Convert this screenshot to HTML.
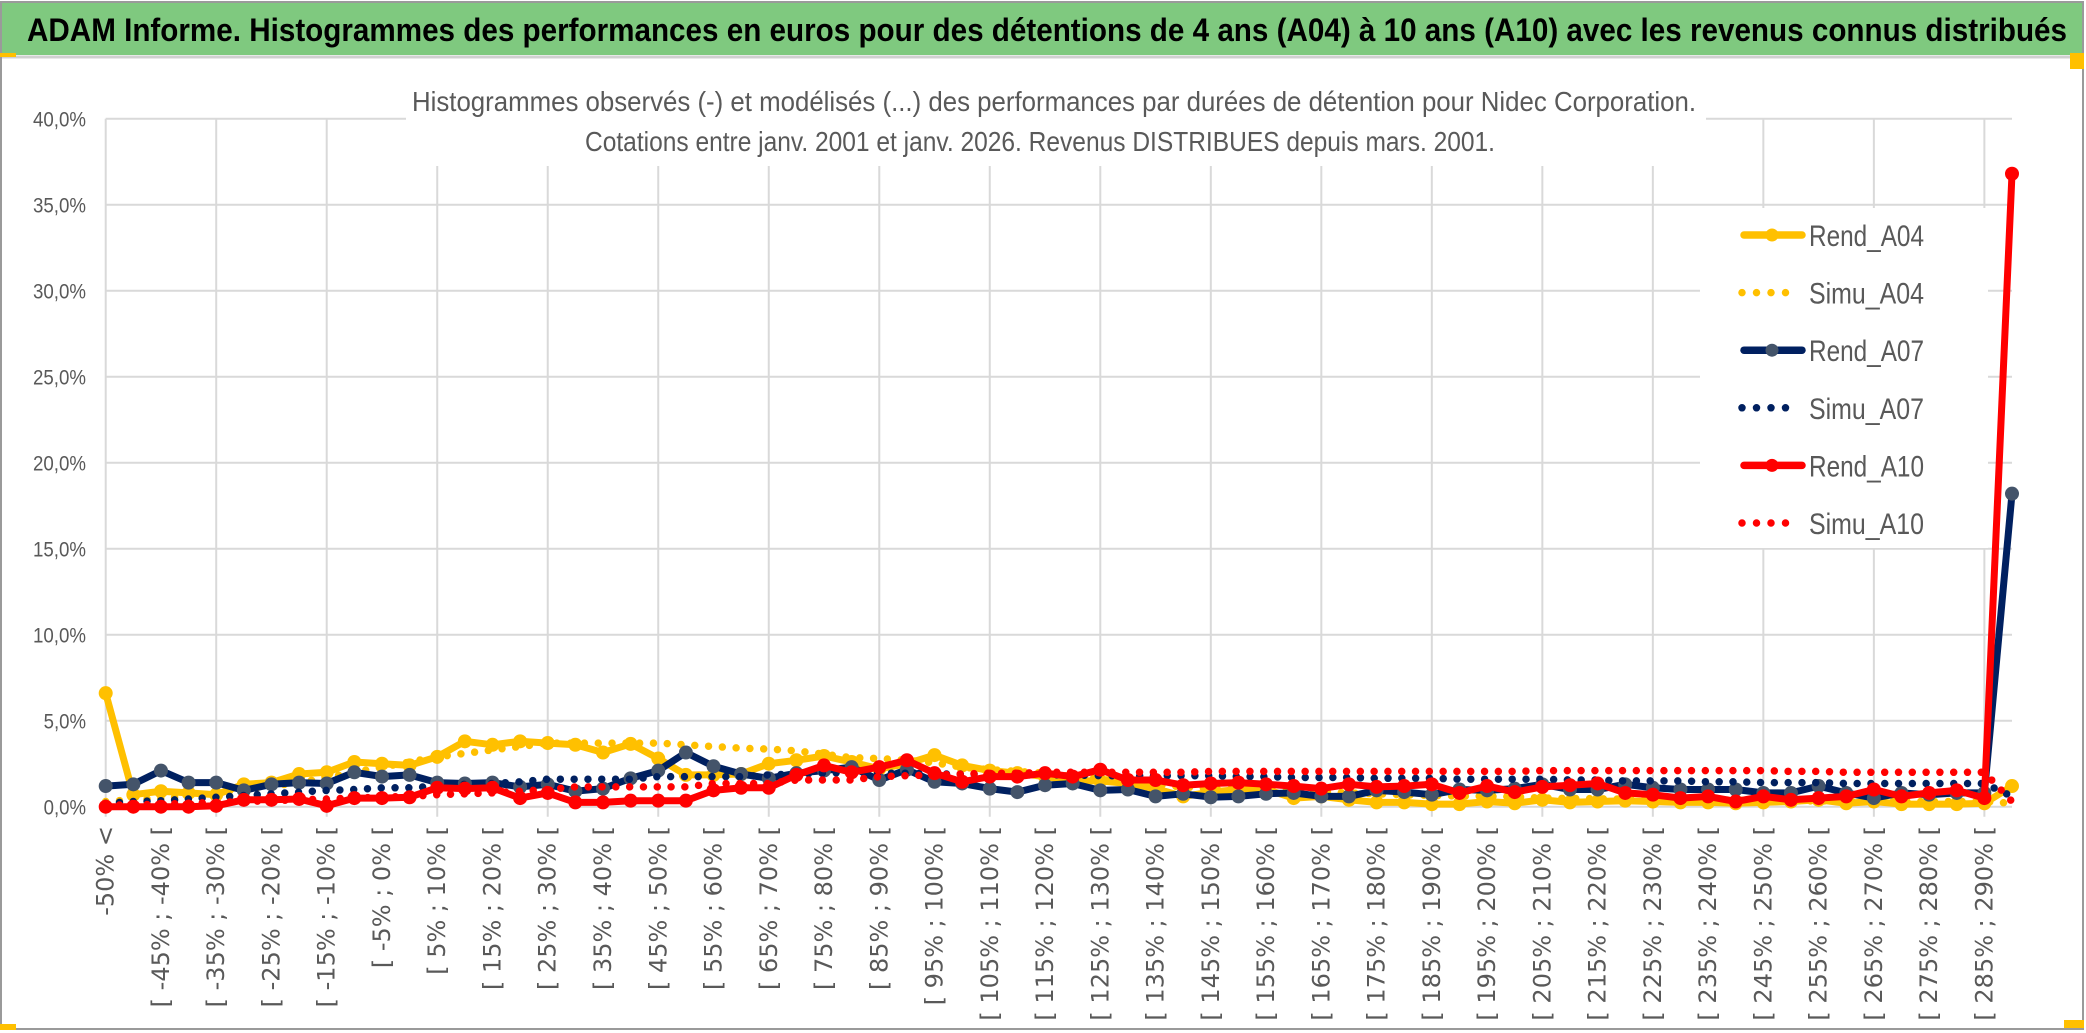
<!DOCTYPE html>
<html><head><meta charset="utf-8"><style>
html,body{margin:0;padding:0;background:#fff;}
svg{display:block;}
</style></head><body>
<svg id="chart" width="2086" height="1033" viewBox="0 0 2086 1033" xmlns="http://www.w3.org/2000/svg">
  <rect x="0" y="0" width="2086" height="1033" fill="#fff"/>
  <rect x="1" y="2" width="2082" height="1027" fill="none" stroke="#9a9a9a" stroke-width="2"/>
  <rect x="2" y="3" width="2080" height="52" fill="#7FC97F"/>
  <line x1="2" y1="57" x2="2082" y2="57" stroke="#d0d0d0" stroke-width="3"/>
  <rect x="0" y="53" width="16" height="4" fill="#FFC000"/>
  <rect x="2070" y="53" width="14" height="16" fill="#FFC000"/>
  <rect x="0" y="1024" width="16" height="6" fill="#FFC000"/>
  <rect x="2064" y="1020" width="20" height="8" fill="#FFC000"/>
  <text x="27" y="41" font-family="Liberation Sans, sans-serif" font-weight="bold" font-size="32" fill="#000" textLength="2040" lengthAdjust="spacingAndGlyphs">ADAM Informe. Histogrammes des performances en euros pour des détentions de 4 ans (A04) à 10 ans (A10) avec les revenus connus distribués</text>
  <g id="grid"></g>
  <rect x="406" y="60" width="1300" height="106" fill="#fff"/>
  <text x="1054" y="111" text-anchor="middle" font-family="Liberation Sans, sans-serif" font-size="28" fill="#595959" textLength="1284" lengthAdjust="spacingAndGlyphs">Histogrammes observés (-) et modélisés (...) des performances par durées de détention pour Nidec Corporation.</text>
  <text x="1040" y="151" text-anchor="middle" font-family="Liberation Sans, sans-serif" font-size="28" fill="#595959" textLength="910" lengthAdjust="spacingAndGlyphs">Cotations entre janv. 2001 et janv. 2026. Revenus DISTRIBUES depuis mars. 2001.</text>
  <g id="yaxis"></g>
  <g id="xaxis"></g>
  <g id="series"></g>
  <g id="legend">
    <rect x="1700" y="208" width="288" height="340" fill="#fff"/>
  </g>
</svg>
<script>
const categories = (function(){ const c=["-50% <"]; for(let k=1;k<70;k++){ const a=-50+5*(k-1); c.push("[ "+a+"% ; "+(a+5)+"% ["); } return c; })();
const yTicks = [0,5,10,15,20,25,30,35,40];
const yTickLabels = ["0,0%","5,0%","10,0%","15,0%","20,0%","25,0%","30,0%","35,0%","40,0%"];
const rendA04 = [6.6,0.7,0.9,0.8,0.7,1.3,1.4,1.9,2.0,2.6,2.5,2.4,2.9,3.8,3.6,3.8,3.7,3.6,3.15,3.65,2.8,1.85,1.85,1.9,2.5,2.7,2.95,2.6,2.2,2.5,3.0,2.4,2.1,1.95,1.75,1.5,1.5,1.35,1.05,0.6,0.85,1.0,1.0,0.5,0.6,0.4,0.25,0.25,0.15,0.15,0.3,0.2,0.4,0.25,0.3,0.35,0.3,0.25,0.25,0.2,0.25,0.3,0.4,0.2,0.3,0.15,0.15,0.15,0.2,1.2];
const simuA04 = [0.3,0.4,0.5,0.6,0.8,1.0,1.2,1.4,1.7,2.0,2.3,2.6,2.9,3.1,3.3,3.5,3.7,3.7,3.7,3.7,3.7,3.6,3.5,3.4,3.35,3.25,3.05,2.85,2.8,2.7,2.55,2.3,2.15,2.05,1.95,1.75,1.6,1.45,1.3,1.15,1.05,1.0,0.95,0.9,0.85,0.8,0.75,0.7,0.65,0.62,0.6,0.58,0.5,0.48,0.46,0.44,0.42,0.4,0.4,0.38,0.36,0.35,0.34,0.33,0.32,0.3,0.3,0.3,0.3,0.2];
const rendA07 = [1.2,1.3,2.1,1.4,1.4,0.95,1.3,1.4,1.35,2.0,1.75,1.85,1.4,1.35,1.4,1.15,1.3,0.9,1.05,1.65,2.1,3.15,2.35,1.9,1.65,1.95,2.1,2.3,1.55,2.15,1.45,1.35,1.05,0.85,1.25,1.35,0.95,1.0,0.6,0.75,0.55,0.6,0.75,0.8,0.6,0.6,0.95,0.85,0.7,1.0,0.95,1.05,1.3,1.0,1.0,1.3,1.1,1.0,1.0,1.0,0.8,0.8,1.2,0.8,0.5,0.8,0.7,0.8,0.8,18.2];
const simuA07 = [0.2,0.3,0.35,0.45,0.55,0.65,0.75,0.85,0.95,1.0,1.1,1.1,1.2,1.3,1.35,1.45,1.6,1.6,1.6,1.6,1.75,1.75,1.75,1.75,1.85,1.9,1.95,2.0,1.95,1.95,1.9,1.9,1.9,1.85,1.85,1.85,1.8,1.8,1.8,1.8,1.8,1.75,1.75,1.7,1.7,1.7,1.65,1.65,1.65,1.6,1.6,1.6,1.6,1.55,1.55,1.5,1.5,1.5,1.45,1.45,1.4,1.4,1.4,1.35,1.35,1.35,1.35,1.35,1.35,0.6];
const rendA10 = [0,0,0,0,0.05,0.4,0.4,0.45,0.05,0.5,0.5,0.55,1.1,1.05,1.1,0.5,0.8,0.25,0.25,0.35,0.35,0.35,0.95,1.1,1.1,1.85,2.4,2.0,2.3,2.7,1.95,1.45,1.75,1.75,1.95,1.75,2.15,1.55,1.55,1.25,1.35,1.4,1.3,1.2,1.05,1.3,1.15,1.2,1.3,0.8,1.2,0.85,1.15,1.25,1.35,0.8,0.7,0.5,0.6,0.3,0.6,0.4,0.5,0.6,1.0,0.6,0.8,0.95,0.5,36.8];
const simuA10 = [0.1,0.1,0.15,0.2,0.25,0.3,0.35,0.4,0.45,0.5,0.55,0.6,0.7,0.75,0.8,0.9,1.0,1.15,1.15,1.15,1.15,1.15,1.35,1.35,1.35,1.55,1.55,1.55,1.75,1.8,1.85,1.9,1.95,1.95,2.0,2.0,2.0,2.0,2.0,2.0,2.05,2.05,2.05,2.05,2.05,2.05,2.05,2.05,2.05,2.05,2.05,2.05,2.1,2.1,2.1,2.1,2.1,2.1,2.1,2.1,2.1,2.05,2.05,2.0,2.0,2.0,2.0,2.0,2.0,0.3];

const NS="http://www.w3.org/2000/svg";
const X0=105.7, X1=2012, Y0=806.7, Y40=118.7;
function xPos(i){ return X0 + i*(X1-X0)/(categories.length-1); }
function yPos(v){ return Y0 - v*(Y0-Y40)/40; }
function mk(tag, attrs, parent){ const e=document.createElementNS(NS,tag); for(const k in attrs) e.setAttribute(k,attrs[k]); parent.appendChild(e); return e; }

const grid=document.getElementById('grid');
yTicks.forEach(function(t){
  const l=mk('line',{x1:X0,x2:X1,y1:yPos(t),y2:yPos(t),stroke:'#D9D9D9','stroke-width':2},grid);
  
  
});
for(let i=0;i<categories.length;i+=4){
  const l=mk('line',{x1:xPos(i),x2:xPos(i),y1:Y40,y2:Y0+10,stroke:'#D9D9D9','stroke-width':2},grid);
  
  
}

const yaxis=document.getElementById('yaxis');
yTicks.forEach(function(t,i){
  const tx=mk('text',{x:86,y:yPos(t)+8,'text-anchor':'end','font-family':'Liberation Sans, sans-serif','font-size':21,fill:'#595959',textLength:yTickLabels[i].length*10.6,lengthAdjust:'spacingAndGlyphs'},yaxis);
  tx.textContent=yTickLabels[i];
  
  
});

const xaxis=document.getElementById('xaxis');
categories.forEach(function(c,i){
  if(i%2!==0) return;
  const x=xPos(i)+8, y=826;
  const tx=mk('text',{x:x,y:y,'text-anchor':'end','font-family':'DejaVu Sans, sans-serif','font-size':24,fill:'#595959',transform:'rotate(-90 '+x+' '+y+')'},xaxis);
  tx.textContent=c;
  
  
});

const seriesG=document.getElementById('series');
function pts(arr){ return arr.map(function(v,i){ return xPos(i).toFixed(1)+','+yPos(v).toFixed(1); }).join(' '); }
function solid(arr,color,marker,name){
  const g=mk('g',{},seriesG);
  
  
  mk('polyline',{points:pts(arr),fill:'none',stroke:color,'stroke-width':7,'stroke-linejoin':'round','stroke-linecap':'round'},g);
  arr.forEach(function(v,i){
    const c=mk('circle',{cx:xPos(i),cy:yPos(v),r:7,fill:marker},g);
    
    
  });
}
function dotted(arr,color,name){
  const p=mk('polyline',{points:pts(arr),fill:'none',stroke:color,'stroke-width':7.5,'stroke-linecap':'round','stroke-dasharray':'0 13.8'},seriesG);
  
  
}
solid(rendA04,'#FFC000','#FFC000','rend-a04-line');
dotted(simuA04,'#FFC000','simu-a04-line');
solid(rendA07,'#002060','#44546A','rend-a07-line');
dotted(simuA07,'#002060','simu-a07-line');
solid(rendA10,'#FF0000','#FF0000','rend-a10-line');
dotted(simuA10,'#FF0000','simu-a10-line');

const legend=document.getElementById('legend');
const legendItems=[["Rend_A04","#FFC000","#FFC000",false],["Simu_A04","#FFC000","",true],["Rend_A07","#002060","#44546A",false],["Simu_A07","#002060","",true],["Rend_A10","#FF0000","#FF0000",false],["Simu_A10","#FF0000","",true]];
legendItems.forEach(function(it,i){
  const y=235+i*57.6;
  const g=mk('g',{},legend);
  
  
  if(it[3]){
    mk('line',{x1:1742,x2:1800,y1:y,y2:y,stroke:it[1],'stroke-width':7.5,'stroke-linecap':'round','stroke-dasharray':'0 14.5'},g);
  } else {
    mk('line',{x1:1744,x2:1802,y1:y,y2:y,stroke:it[1],'stroke-width':7.5,'stroke-linecap':'round'},g);
    mk('circle',{cx:1772,cy:y,r:6.5,fill:it[2]},g);
  }
  const t=mk('text',{x:1809,y:y+11,'font-family':'Liberation Sans, sans-serif','font-size':30,fill:'#595959',textLength:115,lengthAdjust:'spacingAndGlyphs'},g);
  t.textContent=it[0];
});
</script>
</body></html>
